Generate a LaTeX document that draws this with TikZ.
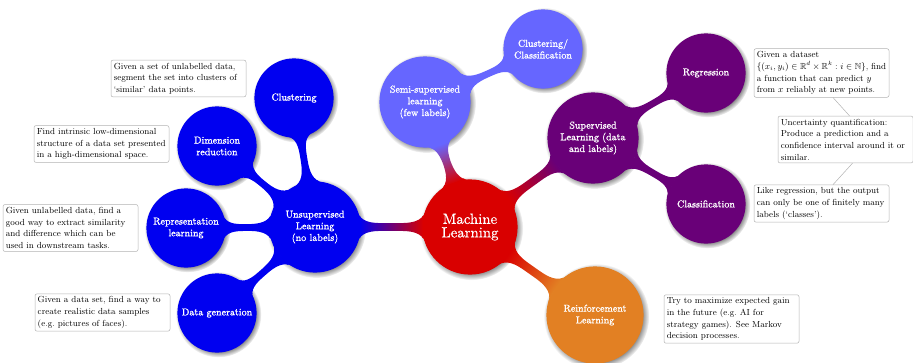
\documentclass[tikz,border=0pt]{standalone}
\usepackage{amsmath,amssymb}
\usepackage{fontspec}
\usetikzlibrary{mindmap,shadows}
\newfontfamily\conceptfont{lmroman10-regular.otf}[FakeBold=1.2]
\newfontfamily\rootfont{lmroman10-regular.otf}[FakeBold=0.6]
\definecolor{mlred}{RGB}{217,0,0}
\definecolor{ublue}{RGB}{0,0,240}
\definecolor{sblue}{RGB}{102,102,255}
\definecolor{spurple}{RGB}{105,0,120}
\definecolor{rorange}{RGB}{226,128,35}
\begin{document}
\begin{tikzpicture}[x=1pt, y=-1pt,
  cpt/.style={concept, text=white, inner sep=0pt, align=center,
    font=\conceptfont\fontsize{10}{11.7}\selectfont, circular drop shadow},
  rootc/.style={cpt, minimum size=94pt, text width=80pt,
    font=\rootfont\fontsize{14.8}{13.5}\selectfont},
  lvone/.style={cpt, minimum size=90pt, text width=72pt},
  lvtwo/.style={cpt, minimum size=78pt, text width=72pt},
  note/.style={rectangle, draw=gray!60, rounded corners=2pt, text width=129.5pt, inner sep=2.75pt,
    align=flush left, fill=white, line width=0.5pt,
    font=\fontsize{8.8}{11.7}\selectfont},
  link/.style={draw=gray!60, line width=0.5pt}]
\useasboundingbox (0,0) rectangle (913,362);

\begin{scope}[mindmap]
% concepts
\node[rootc, concept color=mlred] (ml) at (470,227) {Machine Learning};
\node[lvone, concept color=ublue] (un) at (315,227) {Unsupervised Learning (no labels)};
\node[lvone, concept color=sblue] (semi) at (425,102) {Semi-supervised learning (few labels)};
\node[lvone, concept color=spurple] (sup) at (593,138) {Supervised Learning (data and labels)};
\node[lvone, concept color=rorange, minimum size=96pt] (rl) at (595,315) {Reinforcement Learning};

\node[lvtwo, concept color=ublue] (clu) at (294,98) {Clustering};
\node[lvtwo, concept color=ublue] (dim) at (217,146) {Dimension reduction};
\node[lvtwo, concept color=ublue] (rep) at (186,228) {Representation learning};
\node[lvtwo, concept color=ublue] (gen) at (217,313) {Data generation};
\node[lvtwo, concept color=sblue] (cc) at (543,49) {Clustering/ Classification};
\node[lvtwo, concept color=spurple] (reg) at (706,73) {Regression};
\node[lvtwo, concept color=spurple] (cla) at (706,204) {Classification};

% connections
\path (ml) to[circle connection bar switch color=from (mlred) to (ublue)] (un);
\path (ml) to[circle connection bar switch color=from (mlred) to (sblue)] (semi);
\path (ml) to[circle connection bar switch color=from (mlred) to (spurple)] (sup);
\path (ml) to[circle connection bar switch color=from (mlred) to (rorange)] (rl);
\path (un) to[circle connection bar switch color=from (ublue) to (ublue)] (clu);
\path (un) to[circle connection bar switch color=from (ublue) to (ublue)] (dim);
\path (un) to[circle connection bar switch color=from (ublue) to (ublue)] (rep);
\path (un) to[circle connection bar switch color=from (ublue) to (ublue)] (gen);
\path (semi) to[circle connection bar switch color=from (sblue) to (sblue)] (cc);
\path (sup) to[circle connection bar switch color=from (spurple) to (spurple)] (reg);
\path (sup) to[circle connection bar switch color=from (spurple) to (spurple)] (cla);
\end{scope}

% annotations
\node[note] (n1) at (178.5,78.5) {Given a set of unlabelled data,\\ segment the set into clusters of\\ `similar' data points.};
\node[note] (n2) at (101.5,144) {Find intrinsic low-dimensional\\ structure of a data set presented\\ in a high-dimensional space.};
\node[note] (n3) at (70.5,228) {Given unlabelled data, find a\\ good way to extract similarity\\ and difference which can be\\ used in downstream tasks.};
\node[note] (n4) at (102.5,312.5) {Given a data set, find a way to\\ create realistic data samples\\ (e.g.\ pictures of faces).};
\node[note] (n5) at (821.5,73) {Given a dataset\\ $\{(x_i,y_i)\in\mathbb{R}^d\times\mathbb{R}^k : i\in\mathbb{N}\}$, find\\ a function that can predict $y$\\ from $x$ reliably at new points.};
\node[note] (n6) at (845.5,139.5) {Uncertainty quantification:\\ Produce a prediction and a\\ confidence interval around it or\\ similar.};
\node[note] (n7) at (821.5,203.5) {Like regression, but the output\\ can only be one of finitely many\\ labels (`classes').};
\node[note] (n8) at (731.5,319) {Try to maximize expected gain\\ in the future (e.g.\ AI for\\ strategy games). See Markov\\ decision processes.};

\draw[link] ([xshift=11.5pt]n5.south) -- ([xshift=4pt]n6.north);
\draw[link] ([xshift=7pt]n6.south) -- ([xshift=11.5pt]n7.north);
\end{tikzpicture}
\end{document}
